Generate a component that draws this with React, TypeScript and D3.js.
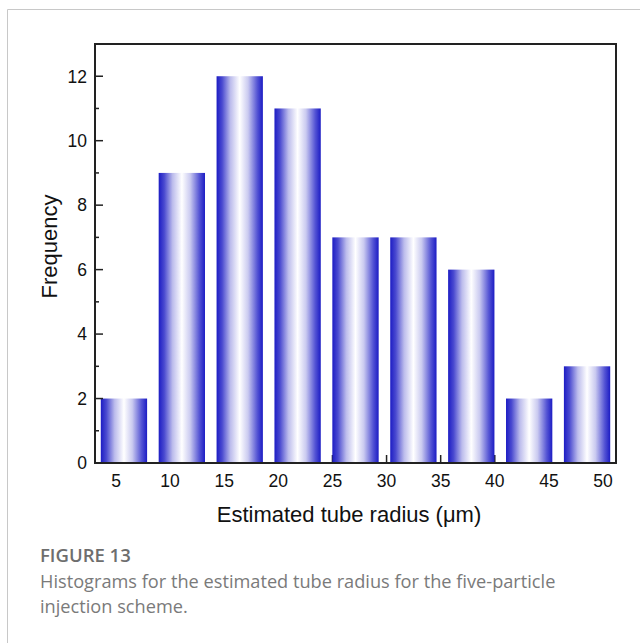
import React from "react";
import * as d3 from "d3";

// histogram bins (tube radius, µm) and counts
const bins = ["5", "10", "15", "20", "25", "30", "35", "40", "45"];
const counts = [2, 9, 12, 11, 7, 7, 6, 2, 3];
const xTickValues = [5, 10, 15, 20, 25, 30, 35, 40, 45, 50];
const yTickValues = [0, 2, 4, 6, 8, 10, 12];

const W = 640;
const H = 643;
const plot = { left: 95, right: 616, top: 44, bottom: 463 };
const barBlue = "#1c1cc4";
const font = "'Liberation Sans', Arial, sans-serif";
const capFont = "'Open Sans', 'Noto Sans', sans-serif";

export default function App() {
  const band = d3.scaleBand()
    .domain(bins)
    .range([plot.left, plot.right])
    .paddingInner(0.2)
    .paddingOuter(0.1);

  const x = d3.scaleLinear().domain([3.06, 51.2]).range([plot.left, plot.right]);
  const y = d3.scaleLinear().domain([0, 13]).range([plot.bottom, plot.top]);

  const yMinor = d3.range(1, 13, 2);
  const xMinor = d3.range(7.5, 50, 5);

  return (
    <svg width={W} height={H} style={{ position: "absolute", left: 0, top: 0, background: "#fff" }}>
      <defs>
        <linearGradient id="barGrad" x1="0" x2="1" y1="0" y2="0">
          <stop offset="0" stopColor={barBlue} />
          <stop offset="0.12" stopColor="#4a4ad0" />
          <stop offset="0.3" stopColor="#bcbcec" />
          <stop offset="0.5" stopColor="#ffffff" />
          <stop offset="0.68" stopColor="#cacaf0" />
          <stop offset="0.88" stopColor="#5454d4" />
          <stop offset="1" stopColor={barBlue} />
        </linearGradient>
      </defs>

      {/* card outline */}
      <path d={`M7.5,${H} V9.5 H${W}`} fill="none" stroke="#c8c8c8" strokeWidth={1} />

      {/* ticks are inward, drawn under the bars */}
      {xTickValues.map((t) => (
        <line key={"xt" + t} x1={x(t)} x2={x(t)} y1={plot.bottom} y2={plot.bottom - 8} stroke="#222" strokeWidth={1.5} />
      ))}
      {xMinor.map((t) => (
        <line key={"xm" + t} x1={x(t)} x2={x(t)} y1={plot.bottom} y2={plot.bottom - 4} stroke="#222" strokeWidth={1.5} />
      ))}

      {counts.map((c, i) => (
        <rect key={i}
          x={band(bins[i])} width={band.bandwidth()}
          y={y(c)} height={y(0) - y(c)}
          fill="url(#barGrad)" />
      ))}

      {yTickValues.map((t) => (
        <line key={"yt" + t} x1={plot.left} x2={plot.left + 8} y1={y(t)} y2={y(t)} stroke="#222" strokeWidth={1.5} />
      ))}
      {yMinor.map((t) => (
        <line key={"ym" + t} x1={plot.left} x2={plot.left + 4} y1={y(t)} y2={y(t)} stroke="#222" strokeWidth={1.5} />
      ))}

      <rect x={plot.left} y={plot.top} width={plot.right - plot.left} height={plot.bottom - plot.top}
        fill="none" stroke="#222" strokeWidth={2} />

      {yTickValues.map((t) => (
        <text key={"yl" + t} x={plot.left - 8} y={y(t)} dy="0.36em" textAnchor="end"
          fontFamily={font} fontSize={17.5} fill="#111">{t}</text>
      ))}
      {xTickValues.map((t) => (
        <text key={"xl" + t} x={x(t)} y={plot.bottom + 24} textAnchor="middle"
          fontFamily={font} fontSize={17.5} fill="#111">{t}</text>
      ))}

      <text x={349} y={522} textAnchor="middle" fontFamily={font} fontSize={22} fill="#111">
        Estimated tube radius (μm)
      </text>
      <text transform={`translate(57,${(plot.top + plot.bottom) / 2 - 7}) rotate(-90)`} textAnchor="middle"
        fontFamily={font} fontSize={22} fill="#111">Frequency</text>

      <text x={40} y={562} fontFamily={capFont} fontSize={18.5} fontWeight={600} fill="#6e6e6e">
        FIGURE 13
      </text>
      <text x={40} y={588} fontFamily={capFont} fontSize={18.2} fill="#7a7a7a">
        Histograms for the estimated tube radius for the five-particle
      </text>
      <text x={40} y={613} fontFamily={capFont} fontSize={18.2} fill="#7a7a7a">
        injection scheme.
      </text>
    </svg>
  );
}
